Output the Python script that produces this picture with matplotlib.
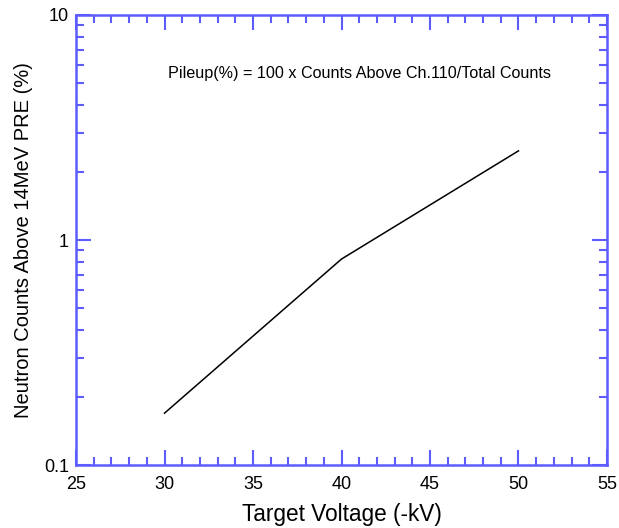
import matplotlib
matplotlib.use("Agg")
import matplotlib.pyplot as plt
from matplotlib.ticker import MultipleLocator, LogLocator, NullFormatter

plt.rcParams['font.family'] = ['Liberation Sans', 'DejaVu Sans']

voltage = [30, 40, 50]
pileup = [0.17, 0.823, 2.49]
x_ticks = [25, 30, 35, 40, 45, 50, 55]
y_ticks = [0.1, 1, 10]
y_tick_labels = ['0.1', '1', '10']

blue = '#5c5cff'

fig = plt.figure(figsize=(6.19, 5.28), dpi=100)
ax = fig.add_axes([0.1228, 0.1193, 0.8578, 0.8523])
ax.plot(voltage, pileup, color='black', lw=1.1)
ax.set_yscale('log')
ax.set_xlim(25, 55)
ax.set_ylim(0.1, 10)
ax.set_xticks(x_ticks)
ax.set_xticklabels([str(v) for v in x_ticks])
ax.xaxis.set_minor_locator(MultipleLocator(1))
ax.set_yticks(y_ticks)
ax.set_yticklabels(y_tick_labels)
ax.yaxis.set_minor_locator(LogLocator(base=10, subs=range(2, 10)))
ax.yaxis.set_minor_formatter(NullFormatter())

for s in ax.spines.values():
    s.set_color(blue)
    s.set_linewidth(1.8)
ax.tick_params(which='both', direction='in', top=True, right=True, color=blue, width=1.5,
               labelsize=13)
ax.tick_params(axis='x', which='major', pad=8)
ax.tick_params(axis='y', which='major', pad=5)
ax.tick_params(which='major', length=11)
ax.tick_params(which='minor', length=6)

ax.set_xlabel('Target Voltage (-kV)', fontsize=16.3, labelpad=7)
ax.set_ylabel('Neutron Counts Above 14MeV PRE (%)', fontsize=14.5, labelpad=8)
ax.text(0.173, 0.871, 'Pileup(%) = 100 x Counts Above Ch.110/Total Counts', transform=ax.transAxes,
        fontsize=11.6, ha='left', va='center')

fig.savefig('out.png', dpi=100)
